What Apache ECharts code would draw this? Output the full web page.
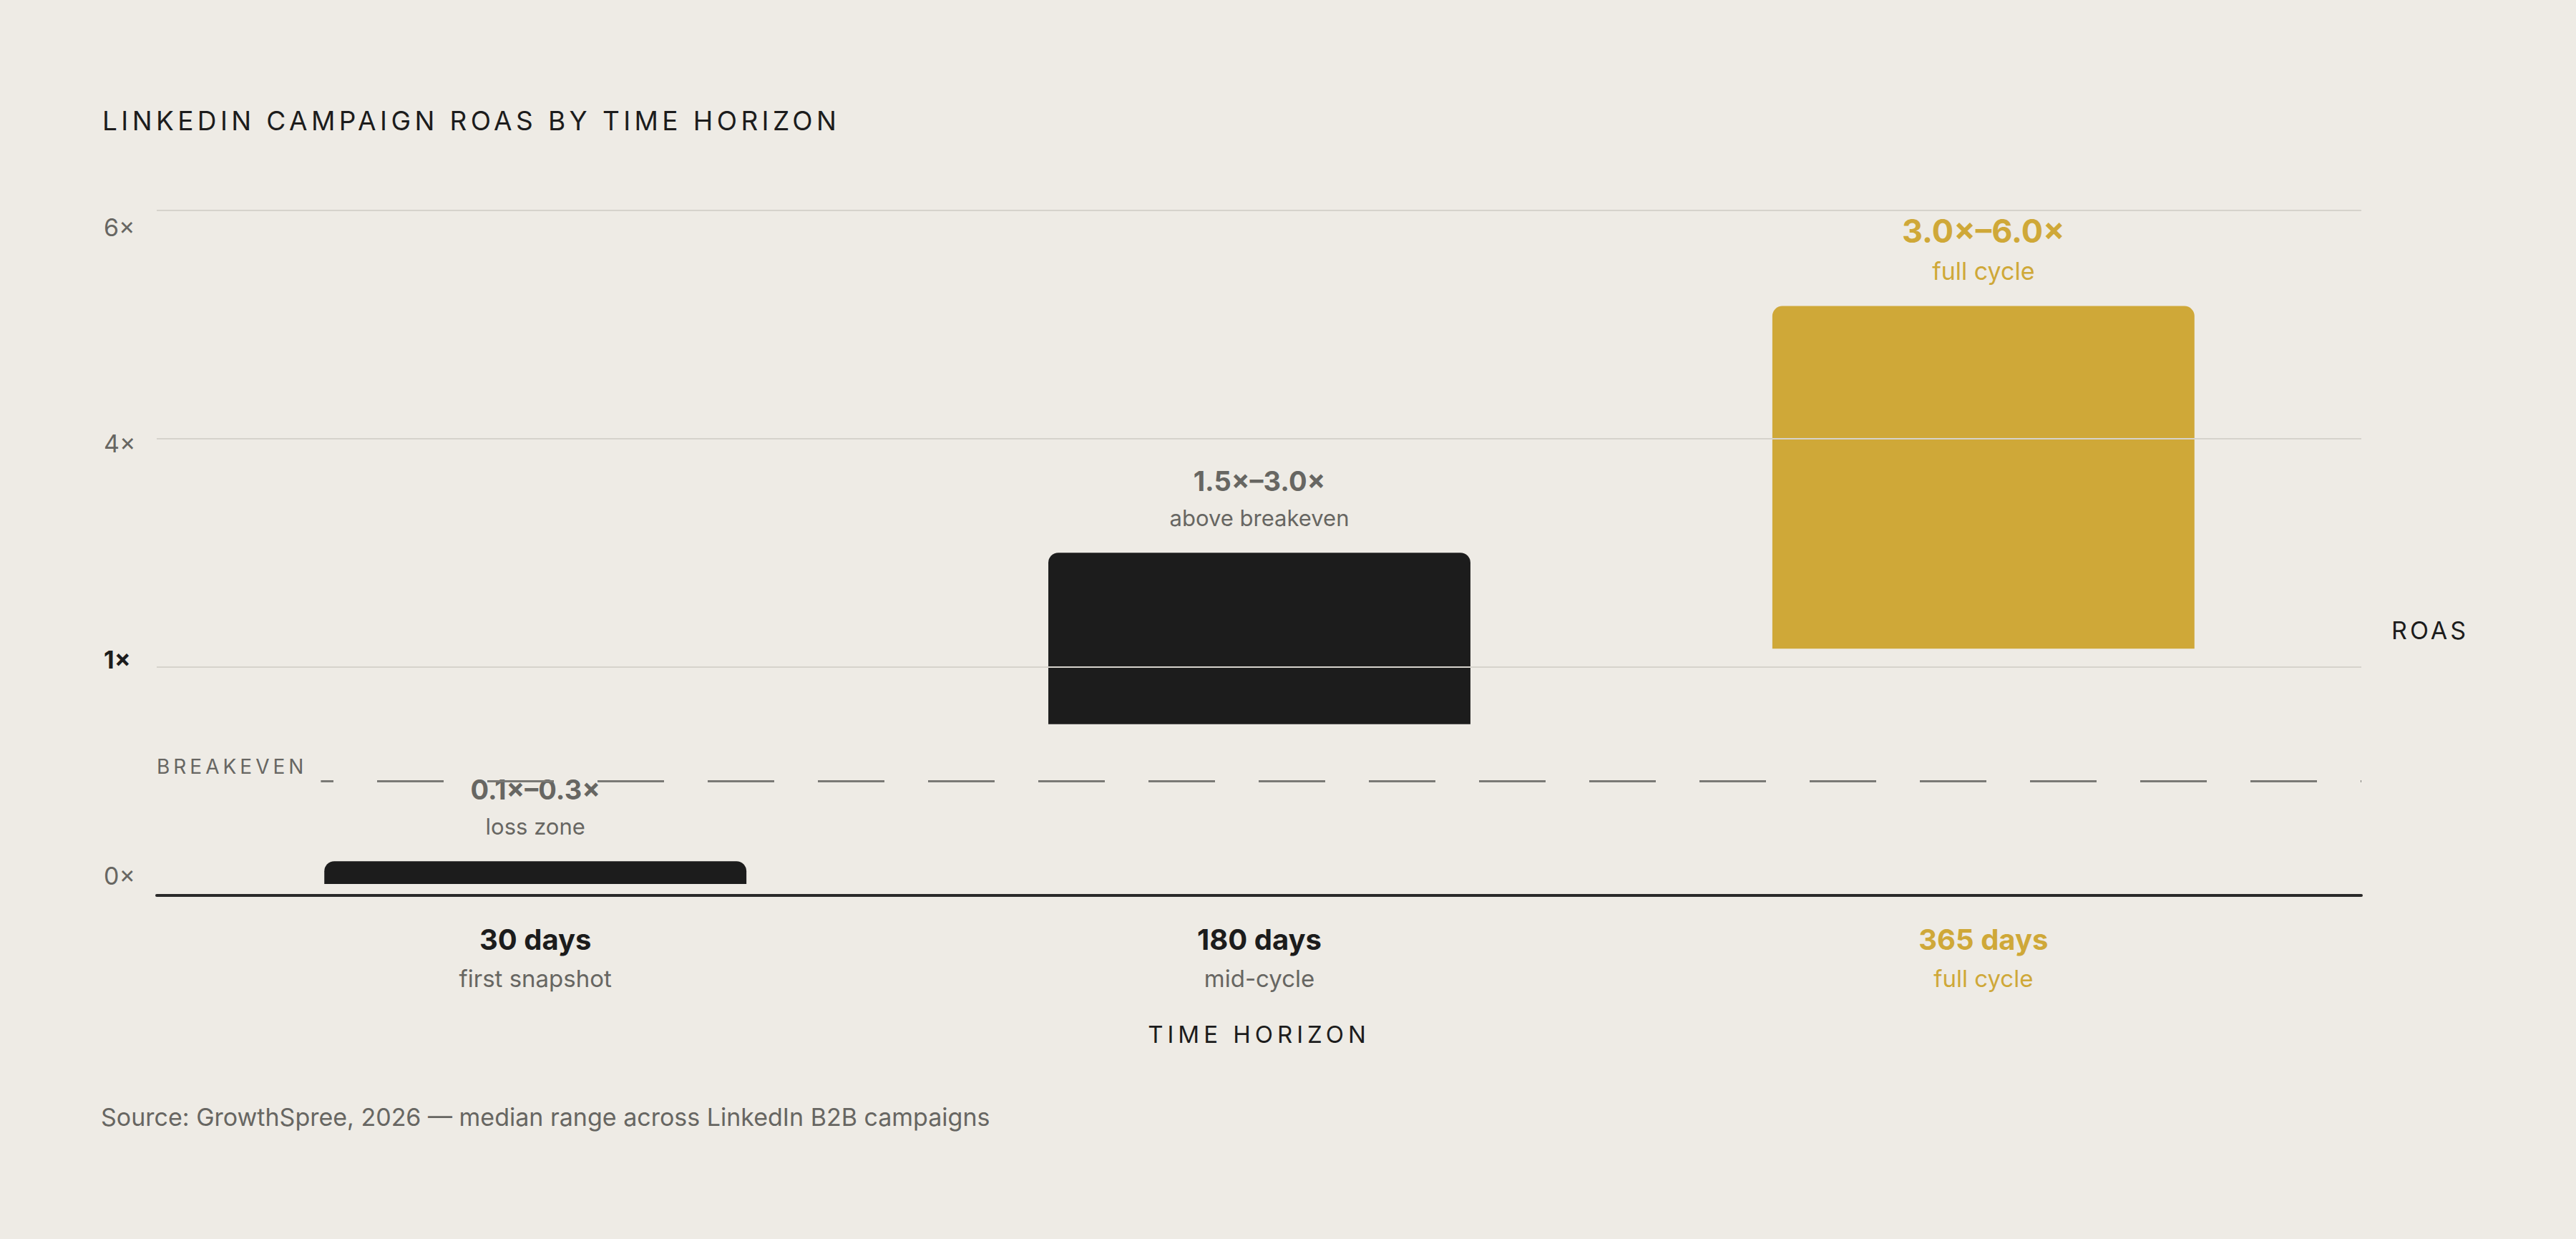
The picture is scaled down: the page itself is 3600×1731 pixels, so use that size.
<!DOCTYPE html>
<html>
<head>
<meta charset="utf-8">
<title>LinkedIn campaign ROAS by time horizon</title>
<script src="https://cdn.jsdelivr.net/npm/echarts@6/dist/echarts.min.js"></script>
<style>
  html, body { margin: 0; padding: 0; background: #eeebe5; }
  #chart { width: 3600px; height: 1731px; }
</style>
</head>
<body>
<div id="chart"></div>
<script>
// data
var categories = ['30 days', '180 days', '365 days'];
var stageLabels = ['first snapshot', 'mid-cycle', 'full cycle'];
var rangeLow = [0.1, 1.5, 2.16];
var rangeHigh = [0.3, 3.0, 5.16];
var rangeLabels = ['0.1×–0.3×', '1.5×–3.0×', '3.0×–6.0×'];
var zoneLabels = ['loss zone', 'above breakeven', 'full cycle'];
var yTickValues = [0, 2, 4, 6];
var yTickLabels = ['0×', '1×', '4×', '6×'];
var breakeven = 1;

(function() {
  var font = 'Inter, "Noto Sans", sans-serif';
  var bg = '#eeebe5';
  var ink = '#1c1c1c';
  var muted = '#676662';
  var gold = '#cfa838';
  var rule = '#d6d3cc';
  var highlight = 2; // the full-cycle bar is drawn in gold
  var BAR_SPAN = 0.583;

  var titleText = 'LINKEDIN CAMPAIGN ROAS BY TIME HORIZON';
  var sourceText = 'Source: GrowthSpree, 2026 — median range across LinkedIn B2B campaigns';

  // letter spacing (px) for the tracked caps labels, applied to the svg text
  var tracking = {};
  tracking[titleText] = 5.4;
  tracking['ROAS'] = 4;
  tracking['TIME HORIZON'] = 6;
  tracking['BREAKEVEN'] = 5;

  function applyTracking() {
    var nodes = document.querySelectorAll('#chart text');
    Array.prototype.forEach.call(nodes, function(t) {
      var s = tracking[t.textContent.trim()];
      if (s) {
        t.setAttribute('letter-spacing', s);
        t.style.letterSpacing = s + 'px';
      }
    });
  }

  var chart = echarts.init(document.getElementById('chart'), null, { renderer: 'svg' });
  chart.on('finished', applyTracking);

  chart.setOption({
    backgroundColor: bg,
    animation: false,
    title: [
      {
        text: titleText, left: 143, top: 150, padding: 0,
        textStyle: { fontFamily: font, fontSize: 37, lineHeight: 37, fontWeight: 400, color: ink }
      },
      {
        text: 'ROAS', left: 3342, top: 863, padding: 0,
        textStyle: { fontFamily: font, fontSize: 34, lineHeight: 34, fontWeight: 400, color: ink }
      },
      {
        text: sourceText, left: 141, top: 1543, padding: 0,
        textStyle: { fontFamily: font, fontSize: 34, lineHeight: 34, fontWeight: 400, color: muted }
      }
    ],
    grid: { left: 219, right: 300, top: 293.5, bottom: 480 },
    xAxis: {
      type: 'value',
      min: -0.523,
      max: 2.522,
      z: 4,
      splitLine: { show: false },
      axisTick: { show: false },
      axisLine: { show: true, onZero: true, lineStyle: { color: '#2a2a2a', width: 4 } },
      axisLabel: {
        customValues: [0, 1, 2],
        margin: 33,
        formatter: function(v) {
          var i = Math.round(v);
          var k = i === highlight ? 'g' : 'd';
          return '{t' + k + '|' + categories[i] + '}\n{s' + k + '|' + stageLabels[i] + '}';
        },
        rich: {
          td: { fontFamily: font, fontSize: 40, fontWeight: 700, color: ink, lineHeight: 56 },
          sd: { fontFamily: font, fontSize: 33, fontWeight: 400, color: muted, lineHeight: 53 },
          tg: { fontFamily: font, fontSize: 40, fontWeight: 700, color: gold, lineHeight: 56 },
          sg: { fontFamily: font, fontSize: 33, fontWeight: 400, color: gold, lineHeight: 53 }
        }
      },
      name: 'TIME HORIZON',
      nameLocation: 'middle',
      nameGap: 194,
      nameTextStyle: { fontFamily: font, fontSize: 33, color: ink, verticalAlign: 'middle' }
    },
    yAxis: [
      {
        // grid lines, drawn over the bars
        type: 'value',
        min: 0,
        max: 6,
        interval: 2,
        z: 3,
        axisLine: { show: false },
        axisTick: { show: false },
        axisLabel: { show: false },
        splitLine: { lineStyle: { color: rule, width: 2 } }
      },
      {
        // tick labels
        type: 'value',
        position: 'left',
        min: -0.185,
        max: 6.156,
        axisLine: { show: false },
        axisTick: { show: false },
        splitLine: { show: false },
        axisLabel: {
          customValues: yTickValues,
          align: 'left',
          margin: 74,
          fontFamily: font,
          fontSize: 34,
          color: muted,
          formatter: function(v) {
            var label = yTickLabels[yTickValues.indexOf(v)];
            return label === '1×' ? '{b|' + label + '}' : label;
          },
          rich: {
            b: { fontFamily: font, fontSize: 34, fontWeight: 700, color: ink }
          }
        }
      }
    ],
    series: [
      {
        type: 'custom',
        name: 'ROAS range',
        data: categories.map(function(c, i) { return [i, rangeLow[i], rangeHigh[i]]; }),
        encode: { x: 0, y: [1, 2] },
        renderItem: function(params, api) {
          var i = params.dataIndex;
          var top = api.coord([api.value(0), api.value(2)]);
          var bottom = api.coord([api.value(0), api.value(1)]);
          var w = api.size([BAR_SPAN, 0])[0];
          var hot = i === highlight;
          return {
            type: 'group',
            children: [
              {
                type: 'rect',
                shape: { x: top[0] - w / 2, y: top[1], width: w, height: bottom[1] - top[1], r: [14, 14, 0, 0] },
                style: { fill: hot ? gold : ink }
              },
              {
                type: 'text',
                x: top[0],
                y: top[1] - (hot ? 105 : 100),
                style: {
                  text: rangeLabels[i], align: 'center', verticalAlign: 'middle',
                  fontFamily: font, fontSize: hot ? 45 : 38, fontWeight: 700,
                  fill: hot ? gold : muted
                }
              },
              {
                type: 'text',
                x: top[0],
                y: top[1] - 49,
                style: {
                  text: zoneLabels[i], align: 'center', verticalAlign: 'middle',
                  fontFamily: font, fontSize: hot ? 34 : 31, fontWeight: 400,
                  fill: hot ? gold : muted
                }
              }
            ]
          };
        }
      },
      {
        type: 'line',
        name: 'Breakeven',
        data: [],
        markLine: {
          silent: true,
          symbol: 'none',
          animation: false,
          lineStyle: { color: '#7a7975', width: 3, type: [93, 61] },
          label: {
            show: true,
            position: 'insideStartTop',
            distance: [0, -4],
            formatter: 'BREAKEVEN',
            fontFamily: font,
            fontSize: 28,
            lineHeight: 28,
            color: muted,
            backgroundColor: bg,
            padding: [4, 64, 10, 0]
          },
          emphasis: { disabled: true },
          data: [{ yAxis: breakeven }]
        }
      }
    ]
  });

  chart.getZr().refreshImmediately();
  applyTracking();
  setTimeout(applyTracking, 0);

  window.addEventListener('resize', function() { chart.resize(); applyTracking(); });
})();
</script>
</body>
</html>
